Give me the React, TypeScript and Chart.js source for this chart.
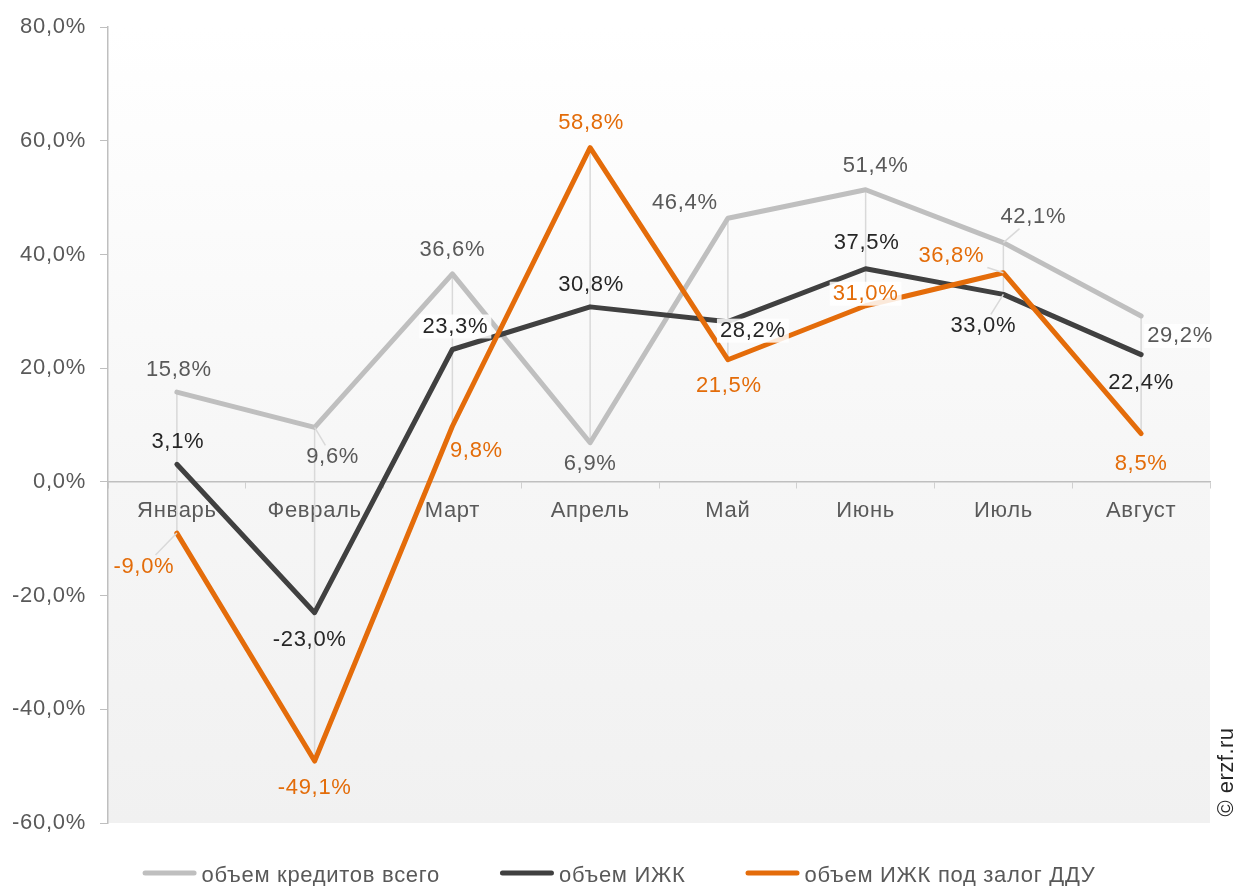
import React, { useEffect, useRef } from "react";
import { Chart, registerables } from "chart.js";

Chart.register(...registerables);

const categories = ["Январь", "Февраль", "Март", "Апрель", "Май", "Июнь", "Июль", "Август"];
const seriesNames = ["объем кредитов всего", "объем ИЖК", "объем ИЖК под залог ДДУ"];
const totalLoans = [15.8, 9.6, 36.6, 6.9, 46.4, 51.4, 42.1, 29.2];
const izhk = [3.1, -23.0, 23.3, 30.8, 28.2, 37.5, 33.0, 22.4];
const izhkDdu = [-9.0, -49.1, 9.8, 58.8, 21.5, 31.0, 36.8, 8.5];
const yMin = -60;
const yMax = 80;
const yStep = 20;

// label placement (pixel offsets from each point), kept apart from the data
const totalPlacement = [[2, -22], [18, 30], [0, -24], [0, 21], [-43, -15], [10, -24], [30, -26], [39, 20]];
const izhkPlacement = [[1, -22], [-5, 27], [3, -23], [1, -22], [25, 9], [1, -26], [-20, 32], [0, 28]];
const dduPlacement = [[-33, 34], [0, 27], [24, 25], [1, -25], [1, 26], [0, -12], [-52, -17], [0, 30]];
const totalLeader = [false, true, false, false, false, false, true, false];
const izhkLeader = [false, false, false, false, false, false, true, false];
const dduLeader = [true, false, false, false, false, false, true, false];
const totalBg = [false, false, false, false, false, false, false, true];
const izhkBg = [false, false, true, false, true, false, false, false];
const dduBg = [false, false, false, false, false, true, false, false];

const COLORS = ["#BFBFBF", "#404040", "#E46C0A"];
const LABEL_COLORS = ["#595959", "#262626", "#E36C09"];
const FONT_FAMILY = "'Liberation Sans', Arial, sans-serif";
const FONT_SIZE = 22;
const SPACING = "0.7px";

const fmt = (v: number) => v.toFixed(1).replace(".", ",") + "%";

const spacingPlugin = {
  id: "spacing",
  beforeUpdate(chart: any) {
    chart.ctx.letterSpacing = SPACING;
  },
  beforeDraw(chart: any) {
    chart.ctx.letterSpacing = SPACING;
  },
};

const backgroundPlugin = {
  id: "plotBg",
  beforeDraw(chart: any) {
    const { ctx, chartArea } = chart;
    const y0 = chart.scales.y.getPixelForValue(0);
    const g = ctx.createLinearGradient(0, chartArea.top, 0, chartArea.bottom);
    const stop0 = (y0 - chartArea.top) / (chartArea.bottom - chartArea.top);
    g.addColorStop(0, "#FFFFFF");
    g.addColorStop(stop0, "#F6F6F6");
    g.addColorStop(1, "#F1F1F1");
    ctx.save();
    ctx.fillStyle = g;
    ctx.fillRect(chartArea.left, chartArea.top, chartArea.right - chartArea.left, chartArea.bottom - chartArea.top);
    ctx.restore();
  },
};

const dropLinesPlugin = {
  id: "dropLines",
  beforeDatasetsDraw(chart: any) {
    const { ctx } = chart;
    const metas = chart.data.datasets.map((_: any, i: number) => chart.getDatasetMeta(i));
    ctx.save();
    ctx.strokeStyle = "#D9D9D9";
    ctx.lineWidth = 1.5;
    for (let j = 0; j < categories.length; j++) {
      const ys = metas.map((m: any) => m.data[j].y);
      const x = metas[0].data[j].x;
      ctx.beginPath();
      ctx.moveTo(x, Math.min(...ys));
      ctx.lineTo(x, Math.max(...ys));
      ctx.stroke();
    }
    ctx.restore();
  },
};

const placements = [totalPlacement, izhkPlacement, dduPlacement];
const leaders = [totalLeader, izhkLeader, dduLeader];
const bgs = [totalBg, izhkBg, dduBg];

const labelsPlugin = {
  id: "valueLabels",
  afterDatasetsDraw(chart: any) {
    const { ctx } = chart;
    ctx.save();
    ctx.font = `${FONT_SIZE}px ${FONT_FAMILY}`;
    ctx.textAlign = "center";
    ctx.textBaseline = "middle";
    chart.data.datasets.forEach((ds: any, i: number) => {
      const meta = chart.getDatasetMeta(i);
      ds.data.forEach((v: number, j: number) => {
        const pt = meta.data[j];
        const [dx, dy] = placements[i][j];
        const cx = pt.x + dx;
        const cy = pt.y + dy;
        const text = fmt(v);
        const w = ctx.measureText(text).width;
        const hw = w / 2 + 3;
        const hh = 12;
        if (bgs[i][j]) {
          ctx.fillStyle = "rgba(255,255,255,0.85)";
          ctx.fillRect(cx - hw, cy - hh, hw * 2, hh * 2);
        }
        if (leaders[i][j]) {
          const ux = pt.x - cx;
          const uy = pt.y - cy;
          const t = Math.min(ux !== 0 ? hw / Math.abs(ux) : Infinity, uy !== 0 ? hh / Math.abs(uy) : Infinity);
          ctx.strokeStyle = "#D9D9D9";
          ctx.lineWidth = 1.5;
          ctx.beginPath();
          ctx.moveTo(cx + ux * t, cy + uy * t);
          ctx.lineTo(pt.x, pt.y);
          ctx.stroke();
        }
        ctx.fillStyle = LABEL_COLORS[i];
        ctx.fillText(text, cx, cy);
      });
    });
    ctx.restore();
  },
};

const legendPlugin = {
  id: "bottomLegend",
  afterDraw(chart: any) {
    const { ctx, width } = chart;
    const lineLen = 54;
    const gap = 5;
    const itemGap = 60;
    const y = 873;
    ctx.save();
    ctx.font = `${FONT_SIZE}px ${FONT_FAMILY}`;
    const items = chart.data.datasets.map((ds: any) => ({
      label: ds.label,
      color: ds.borderColor,
      tw: ctx.measureText(ds.label).width,
    }));
    const total = items.reduce((s: number, it: any) => s + lineLen + gap + it.tw, 0) + itemGap * (items.length - 1);
    let x = (width - total) / 2;
    items.forEach((it: any) => {
      ctx.strokeStyle = it.color;
      ctx.lineWidth = 5;
      ctx.lineCap = "round";
      ctx.beginPath();
      ctx.moveTo(x + 2.5, y);
      ctx.lineTo(x + lineLen - 2.5, y);
      ctx.stroke();
      ctx.fillStyle = "#595959";
      ctx.textAlign = "left";
      ctx.textBaseline = "middle";
      ctx.fillText(it.label, x + lineLen + gap, y + 3);
      x += lineLen + gap + it.tw + itemGap;
    });
    // watermark
    ctx.translate(1227, 772);
    ctx.rotate(-Math.PI / 2);
    ctx.font = `22px ${FONT_FAMILY}`;
    ctx.letterSpacing = "0.5px";
    ctx.fillStyle = "#262626";
    ctx.textAlign = "center";
    ctx.textBaseline = "middle";
    ctx.fillText("© erzf.ru", 0, 0);
    ctx.restore();
  },
};

export default function App() {
  const canvasRef = useRef<HTMLCanvasElement | null>(null);

  useEffect(() => {
    document.body.style.margin = "0";
    const canvas = canvasRef.current;
    if (!canvas) return;
    const seriesData = [totalLoans, izhk, izhkDdu];
    const chart = new Chart(canvas, {
      type: "line",
      data: {
        labels: categories,
        datasets: seriesNames.map((name, i) => ({
          label: name,
          data: seriesData[i],
          borderColor: COLORS[i],
          backgroundColor: COLORS[i],
          borderWidth: 5,
          borderJoinStyle: "round" as const,
          borderCapStyle: "round" as const,
          pointRadius: 0,
          tension: 0,
          order: 2 - i,
        })),
      },
      options: {
        responsive: false,
        animation: false,
        devicePixelRatio: 1,
        layout: { padding: { top: 23, right: 28, bottom: 63, left: 0 } },
        plugins: {
          legend: { display: false },
          tooltip: { enabled: false },
        },
        scales: {
          x: {
            type: "category",
            position: { y: 0 } as any,
            offset: true,
            grid: {
              display: true,
              drawOnChartArea: false,
              drawTicks: true,
              tickLength: 6,
              color: "#D0D0D0",
              offset: true,
            },
            border: { display: true, color: "#BFBFBF", width: 1.5 },
            ticks: {
              color: "#595959",
              font: { size: FONT_SIZE, family: FONT_FAMILY },
              padding: 10,
              maxRotation: 0,
              autoSkip: false,
            },
          },
          y: {
            min: yMin,
            max: yMax,
            afterFit(scale: any) {
              scale.width = 108;
            },
            grid: {
              display: true,
              drawOnChartArea: false,
              drawTicks: true,
              tickLength: 8,
              color: "#BFBFBF",
            },
            border: { display: true, color: "#BFBFBF", width: 1.5 },
            ticks: {
              stepSize: yStep,
              color: "#595959",
              font: { size: FONT_SIZE, family: FONT_FAMILY },
              padding: 14,
              callback: (v: any) => fmt(Number(v)),
            },
          },
        },
      },
      plugins: [spacingPlugin, backgroundPlugin, dropLinesPlugin, labelsPlugin, legendPlugin],
    });
    return () => chart.destroy();
  }, []);

  return (
    <div style={{ width: 1238, height: 886, position: "relative", background: "#FFFFFF" }}>
      <canvas ref={canvasRef} width={1238} height={886} style={{ display: "block" }} />
    </div>
  );
}
